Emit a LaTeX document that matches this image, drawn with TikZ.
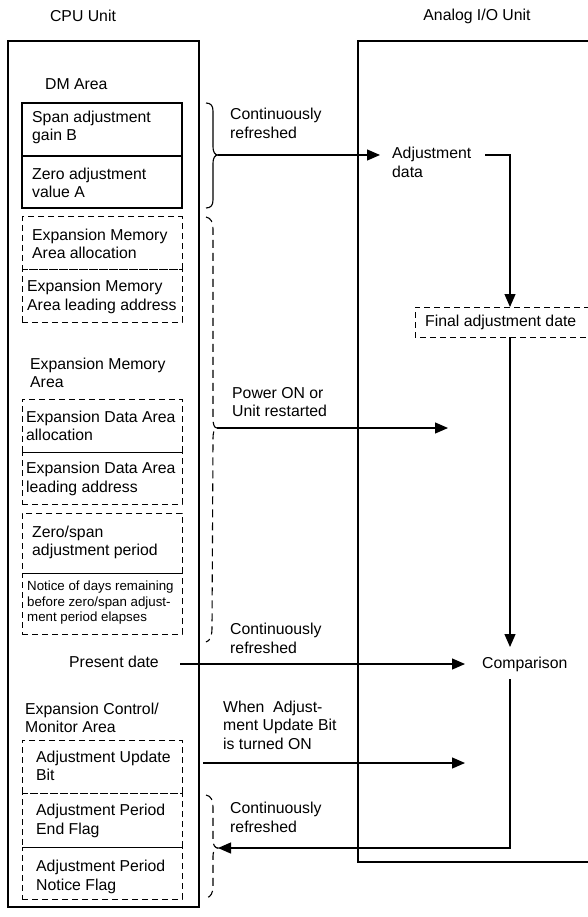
\documentclass[tikz,border=0pt]{standalone}
\usepackage{fontspec}
\setmainfont{Liberation Sans}
\usetikzlibrary{arrows.meta}
\begin{document}
\begin{tikzpicture}[x=1pt,y=-1pt,
  txt/.style={font=\fontsize{15.8}{18.5}\selectfont, inner sep=0pt, align=left, anchor=west},
  smalltxt/.style={font=\fontsize{13.3}{15.5}\selectfont, inner sep=0pt, align=left, anchor=west},
  unitbox/.style={draw, line width=1.5pt, minimum width=191pt, minimum height=866pt, inner sep=0pt},
  unitline/.style={line width=1.5pt},
  solidbox/.style={draw, line width=1.1pt, minimum width=160pt, inner sep=0pt},
  dbox/.style={draw, line width=1pt, dash pattern=on 6pt off 4pt, minimum width=160pt, inner sep=0pt},
  dline/.style={line width=1pt, dash pattern=on 6pt off 4pt},
  bracesolid/.style={line width=1.1pt},
  bracedash/.style={line width=1.1pt, dash pattern=on 8pt off 5pt},
  flow/.style={line width=1.2pt, -{Triangle[length=13pt,width=11pt]}},
  plainline/.style={line width=1.2pt},
]
\useasboundingbox (0,0) rectangle (587,917);

% titles
\node[font=\fontsize{15.8}{18.5}\selectfont, inner sep=0pt] (cputitle) at (83,16) {CPU Unit};
\node[font=\fontsize{15.8}{18.5}\selectfont, inner sep=0pt] (aiotitle) at (477,16) {Analog I/O Unit};

% units
\node[unitbox] (cpu) at (103.5,474) {};
\draw[unitline] (592,41) -- (358,41) -- (358,862) -- (592,862);

% DM area
\node[txt] (dmt) at (45,84) {DM Area};
\node[solidbox, minimum height=53pt] (spanbox) at (102,129.5) {};
\node[solidbox, minimum height=52pt] (zerobox) at (102,182) {};
\node[txt] (spant) at (32,127.5) {Span adjustment\\gain B};
\node[txt] (zerot) at (32,183) {Zero adjustment\\value A};

\node[dbox, minimum height=52pt] (emaabox) at (102,243) {};
\node[dbox, minimum height=53pt] (emalbox) at (102,295.5) {};
\node[txt] (emaat) at (32,244) {Expansion Memory\\Area allocation};
\node[txt] (emalt) at (27,297) {Expansion Memory\\Area leading address};

\node[txt] (emat) at (30,373) {Expansion Memory\\Area};
\node[dbox, minimum height=53pt] (edaabox) at (102,425.5) {};
\node[dbox, minimum height=52pt] (edalbox) at (102,478) {};
\node[dbox, minimum height=60pt] (perbox) at (102,543) {};
\node[dbox, minimum height=61pt] (notbox) at (102,603.5) {};
\node[txt] (edaat) at (26,426) {Expansion Data Area\\allocation};
\node[txt] (edalt) at (26,479) {Expansion Data Area\\leading address};
\node[txt] (pert) at (32,542.5) {Zero/span\\adjustment period};
\node[smalltxt] (nott) at (27,603) {Notice of days remaining\\before zero/span adjust-\\ment period elapses};

\node[txt, anchor=east] (presentt) at (159,662) {Present date};

\node[txt] (ecmt) at (25,718) {Expansion Control/\\Monitor Area};
\node[dbox, minimum height=53pt] (aubbox) at (102,766.5) {};
\node[dbox, minimum height=54pt] (endbox) at (102,820) {};
\node[dbox, minimum height=52pt] (nfbox) at (102,873) {};
\node[txt] (aubt) at (36,766) {Adjustment Update\\Bit};
\node[txt] (endt) at (36,821) {Adjustment Period\\End Flag};
\node[txt] (nft) at (36,877) {Adjustment Period\\Notice Flag};

% labels between units
\node[txt] (cr1) at (230,123.5) {Continuously\\refreshed};
\node[txt] (pon) at (232,402) {Power ON or\\Unit restarted};
\node[txt] (cr2) at (230,638.5) {Continuously\\refreshed};
\node[txt] (when) at (223,725) {When\ \ Adjust-\\ment Update Bit\\is turned ON};
\node[txt] (cr3) at (230,817.5) {Continuously\\refreshed};

% analog side
\node[txt] (adjdata) at (392,162.5) {Adjustment\\data};
\draw[dline] (590,307) -- (415,307) -- (415,337) -- (590,337);
\node[txt] (finalt) at (425,322) {Final adjustment date};
\node[txt] (comp) at (482,664) {Comparison};

% braces
\coordinate (b1tip) at (218,155);
\coordinate (b2tip) at (217,428);
\coordinate (b3tip) at (218,848);
\draw[bracesolid] (206,103) .. controls (211,103) and (213,106) .. (213,111) -- (213,147)
  .. controls (213,152) and (215,155) .. (b1tip)
  .. controls (215,155) and (213,158) .. (213,163) -- (213,200)
  .. controls (213,205) and (211,208) .. (206,208);
\draw[bracedash] (206,217) .. controls (211,218) and (213,222) .. (213,230) -- (213,418)
  .. controls (213,424) and (214,428) .. (b2tip)
  .. controls (214,428) and (213,432) .. (213,440) -- (212,628)
  .. controls (212,636) and (210,641) .. (206,642);
\draw[bracedash] (206,795) .. controls (211,796) and (213,800) .. (213,807) -- (213,840)
  .. controls (213,845) and (215,848) .. (b3tip)
  .. controls (215,848) and (213,851) .. (213,856) -- (213,886)
  .. controls (213,893) and (211,897) .. (206,898);

% connector coordinates
\coordinate (adjin) at (380,155);
\coordinate (adjout) at (485,155);
\coordinate (finaltop) at (510,307);
\coordinate (finalbot) at (510,337);
\coordinate (comptop) at (510,647);
\coordinate (compbot) at (510,679);
\coordinate (presout) at (180,664);
\coordinate (presin) at (465,664);
\coordinate (ponin) at (448,428);
\coordinate (whenout) at (203,763);
\coordinate (whenin) at (465,763);

% connectors
\draw[flow] (b1tip) -- (adjin);
\draw[flow] (adjout) -| (finaltop);
\draw[flow] (finalbot) -- (comptop);
\draw[flow] (b2tip) -- (ponin);
\draw[flow] (presout) -- (presin);
\draw[flow] (whenout) -- (whenin);
\draw[flow] (compbot) |- (b3tip);
\end{tikzpicture}
\end{document}
